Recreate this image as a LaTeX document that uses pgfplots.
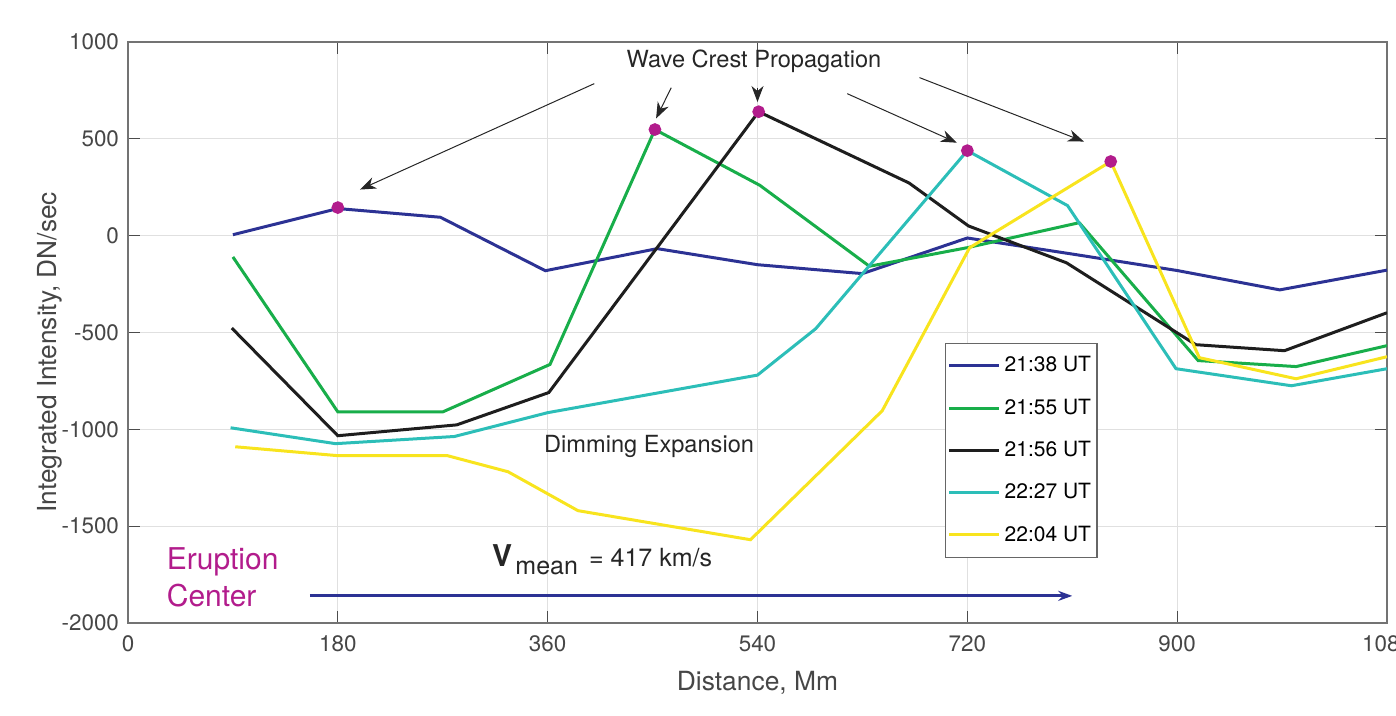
\documentclass[border=0pt]{standalone}
\usepackage{pgfplots}
\pgfplotsset{compat=1.18}
\usepackage{fontspec}
\setmainfont{TeX Gyre Heros}
\usetikzlibrary{arrows.meta}
\definecolor{cblue}{RGB}{44,50,148}
\definecolor{cgreen}{RGB}{24,174,74}
\definecolor{cblack}{RGB}{30,30,30}
\definecolor{ccyan}{RGB}{44,190,184}
\definecolor{cyellow}{RGB}{248,228,30}
\definecolor{cmag}{RGB}{178,28,140}
\definecolor{tickgray}{RGB}{70,70,70}
\begin{document}
\begin{tikzpicture}
\begin{axis}[
  at={(0,0)}, anchor=south west,
  scale only axis, width=629.5pt, height=290.5pt,
  xmin=0, xmax=1080, ymin=-2000, ymax=1000,
  xtick={0,180,360,540,720,900,1080},
  ytick={-2000,-1500,-1000,-500,0,500,1000},
  grid=major,
  major grid style={line width=0.5pt, color=black!12},
  axis line style={line width=0.7pt, color=black!55},
  tick style={line width=0.5pt, color=black!70},
  tick align=inside, major tick length=6pt,
  /pgf/number format/assume math mode=true,
  /pgf/number format/1000 sep={},
  ticklabel style={font=\fontsize{11.2}{13}\selectfont, text=tickgray},
  xticklabel style={yshift=-3pt},
  yticklabel style={xshift=-1pt},
  xlabel={Distance, Mm},
  ylabel={Integrated Intensity, DN/sec},
  every axis x label/.style={at={(axis description cs:0.5,-0.103)}, anchor=center,
    font=\fontsize{13.2}{15}\selectfont, text=tickgray},
  every axis y label/.style={at={(axis description cs:-0.062,0.466)}, rotate=90, anchor=center,
    font=\fontsize{13.1}{15}\selectfont, text=tickgray},
  legend style={at={(rel axis cs:0.649,0.482)}, anchor=north west,
    draw=black!60, line width=0.6pt, fill=white,
    font=\fontsize{10.5}{12}\selectfont, row sep=8pt,
    inner xsep=1pt, inner ysep=4.5pt},
  legend cell align=left,
  legend image code/.code={\draw[#1, line width=1.5pt] (0pt,0pt) -- (25pt,0pt);},
  every axis plot/.append style={line width=1.5pt},
]
\addplot[cblue, mark=none] coordinates {
(90,5) (180,140) (268,95) (358,-181) (454,-67) (540,-150) (630,-196) (720,-12) (810,-95) (900,-180) (988,-280) (1080,-178)};
\addlegendentry{21:38 UT}
\addplot[cgreen, mark=none] coordinates {
(90,-110) (180,-910) (270,-910) (362,-665) (452,548) (542,260) (636,-158) (720,-62) (816,67) (918,-645) (1002,-676) (1080,-568)};
\addlegendentry{21:55 UT}
\addplot[cblack, mark=none] coordinates {
(89,-477) (180,-1033) (282,-977) (361,-810) (541,640) (670,272) (721,50) (805,-140) (916,-563) (992,-594) (1080,-398)};
\addlegendentry{21:56 UT}
\addplot[ccyan, mark=none] coordinates {
(88,-992) (178,-1074) (280,-1037) (360,-914) (540,-720) (590,-480) (720,439) (806,155) (899,-687) (998,-775) (1080,-687)};
\addlegendentry{22:27 UT}
\addplot[cyellow, mark=none] coordinates {
(92,-1090) (180,-1136) (274,-1136) (326,-1219) (386,-1420) (534,-1570) (647,-904) (722,-62) (843,383) (919,-630) (1002,-739) (1080,-625)};
\addlegendentry{22:04 UT}
\addplot[only marks, mark=*, mark size=2.4pt, color=cmag, forget plot] coordinates {
(180,145) (452,548) (541,640) (720,439) (843,383)};

\node[font=\fontsize{11.8}{13}\selectfont, text=black!85] at (axis cs:537,899) {Wave Crest Propagation};
\draw[line width=0.5pt, black!85, -{Stealth[length=8pt,width=6pt,inset=2.5pt]}] (axis cs:400,785) -- (axis cs:199,238);
\draw[line width=0.5pt, black!85, -{Stealth[length=8pt,width=6pt,inset=2.5pt]}] (axis cs:466,764) -- (axis cs:453,605);
\draw[line width=0.5pt, black!85, -{Stealth[length=8pt,width=6pt,inset=2.5pt]}] (axis cs:540,764) -- (axis cs:540,690);
\draw[line width=0.5pt, black!85, -{Stealth[length=8pt,width=6pt,inset=2.5pt]}] (axis cs:617,733) -- (axis cs:711,480);
\draw[line width=0.5pt, black!85, -{Stealth[length=8pt,width=6pt,inset=2.5pt]}] (axis cs:679,816) -- (axis cs:820,486);

\node[font=\fontsize{11.8}{13}\selectfont, text=black!85] at (axis cs:447,-1090) {Dimming Expansion};

\node[font=\fontsize{15}{18.5}\selectfont, text=cmag, align=left, anchor=west, inner sep=0pt] at (axis cs:33,-1766) {Eruption\\Center};

\node[anchor=west, inner sep=0pt, text=black!85] at (axis cs:312,-1673)
  {{\fontsize{15}{15}\selectfont\bfseries V}\,\raisebox{-4pt}{\fontsize{12.5}{12.5}\selectfont mean}\ \ {\fontsize{12.5}{12.5}\selectfont = 417 km/s}};

\draw[cblue, line width=1.5pt, -{Stealth[length=7pt,width=5pt]}] (axis cs:156,-1860) -- (axis cs:810,-1860);
\end{axis}
\pgfresetboundingbox
\path[use as bounding box] (-64pt,-46.5pt) rectangle (634pt,311.5pt);
\end{tikzpicture}
\end{document}
